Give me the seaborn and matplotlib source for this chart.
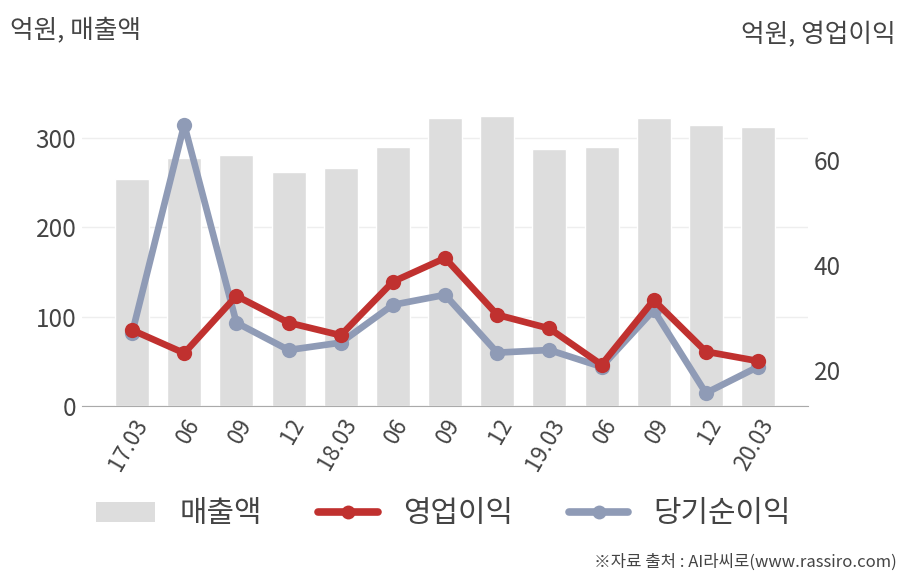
import matplotlib
matplotlib.use("Agg")
import matplotlib.pyplot as plt
import seaborn as sns
import numpy as np
import pandas as pd
from matplotlib.patches import Patch
from matplotlib.lines import Line2D

periods = ["17.03", "17.06", "17.09", "17.12", "18.03", "18.06", "18.09", "18.12",
           "19.03", "19.06", "19.09", "19.12", "20.03"]
tick_labels = ["17.03", "06", "09", "12", "18.03", "06", "09", "12",
               "19.03", "06", "09", "12", "20.03"]
sales = [254, 278, 281, 262, 267, 290, 322, 325, 288, 290, 322, 315, 312]
op_profit = [27.6, 23.2, 34.1, 29.0, 26.6, 36.8, 41.3, 30.5, 27.9, 21.0, 33.3, 23.5, 21.7]
net_profit = [27.0, 66.7, 29.0, 23.8, 25.2, 32.4, 34.3, 23.3, 23.8, 20.6, 31.4, 15.6, 20.6]

BAR = "#dddddd"
RED = "#c0312f"
BLUE = "#8f9bb6"
TXT = "#444444"

sns.set_style("white")
plt.rcParams["font.family"] = ["Noto Sans CJK KR", "DejaVu Sans"]

df = pd.DataFrame({"period": periods, "sales": sales, "op": op_profit, "net": net_profit})

fig = plt.figure(figsize=(9.08, 5.8), dpi=100)
ax = fig.add_axes([0.0903, 0.30, 0.7997, 0.5276])

sns.barplot(data=df, x="period", y="sales", ax=ax, color=BAR, width=0.65,
            saturation=1, order=periods, zorder=2)
ax.set_xlim(-0.96, 12.96)
ax.set_ylim(0, 342.7)
ax.set_yticks([0, 100, 200, 300])
ax.yaxis.grid(True, color="#eeeeee", linewidth=1, zorder=0)
ax.set_axisbelow(True)
ax.set_xlabel("")
ax.set_ylabel("")
for s in ["top", "right", "left"]:
    ax.spines[s].set_visible(False)
ax.spines["bottom"].set_color("#aaaaaa")
ax.set_xticks(range(len(periods)))
ax.set_xticklabels(tick_labels, rotation=60, ha="right", rotation_mode="anchor",
                   fontsize=16, color=TXT)
ax.tick_params(axis="y", labelsize=17.5, labelcolor=TXT, length=0, pad=4)
ax.tick_params(axis="x", length=0, pad=6)

LW = 4.8
MS = 11
ax2 = ax.twinx()
sns.lineplot(data=df, x="period", y="net", ax=ax2, color=BLUE, linewidth=LW,
             marker="o", markersize=MS, markeredgewidth=0, sort=False, zorder=3)
sns.lineplot(data=df, x="period", y="op", ax=ax2, color=RED, linewidth=LW,
             marker="o", markersize=MS, markeredgewidth=0, sort=False, zorder=4)
ax2.set_xlim(-0.96, 12.96)
ax2.set_ylim(13.14, 71.4)
ax2.set_yticks([20, 40, 60])
ax2.set_xlabel("")
ax2.set_ylabel("")
for s in ["top", "right", "left", "bottom"]:
    ax2.spines[s].set_visible(False)
ax2.tick_params(axis="y", labelsize=17.5, labelcolor=TXT, length=0, pad=4)
ax2.grid(False)

fig.text(0.011, 0.947, "억원, 매출액", fontsize=18.5, color=TXT, ha="left", va="center")
fig.text(0.986, 0.940, "억원, 영업이익", fontsize=18.5, color=TXT, ha="right", va="center")
fig.text(0.988, 0.031, "※자료 출처 : AI라씨로(www.rassiro.com)", fontsize=12,
         color=TXT, ha="right", va="center")

handles = [
    Patch(facecolor=BAR, edgecolor="none"),
    Line2D([], [], color=RED, linewidth=5.5, marker="o", markersize=10, markeredgewidth=0),
    Line2D([], [], color=BLUE, linewidth=5.5, marker="o", markersize=10, markeredgewidth=0),
]
leg = fig.legend(handles, ["매출액", "영업이익", "당기순이익"], loc="center",
                 bbox_to_anchor=(0.488, 0.114), ncol=3, frameon=False, fontsize=21.5,
                 handlelength=2.0, handleheight=0.67, columnspacing=1.87, handletextpad=0.83)
for t in leg.get_texts():
    t.set_color(TXT)

fig.savefig("out.png", dpi=100)
